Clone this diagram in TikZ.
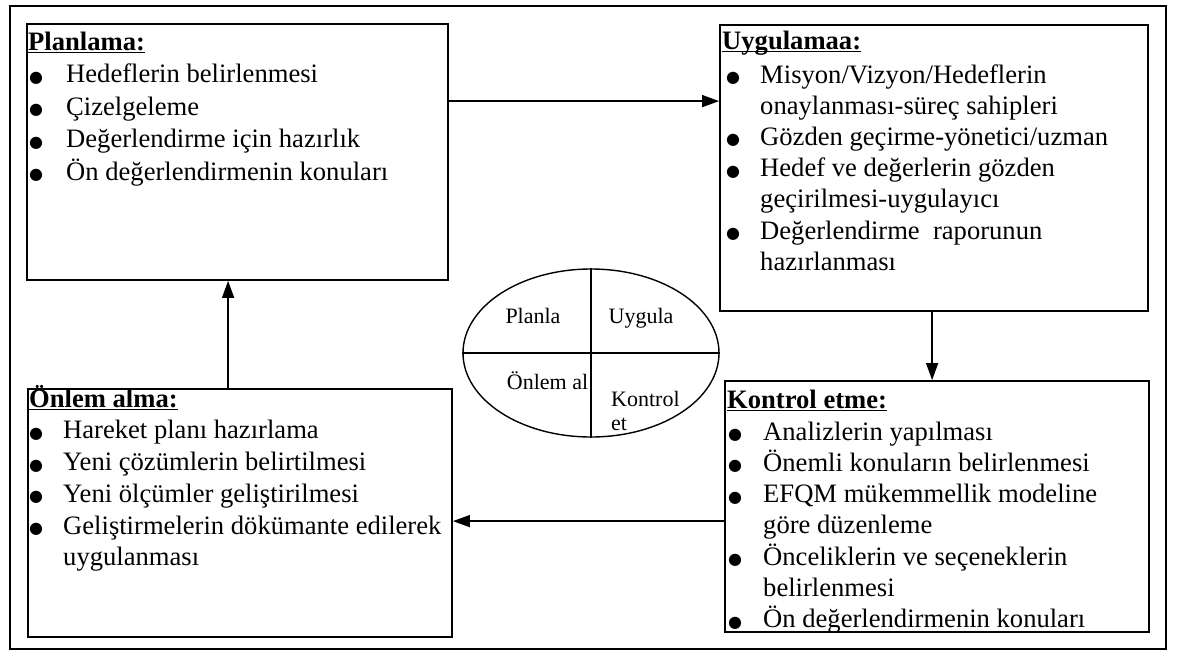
\documentclass[tikz,border=0pt]{standalone}
\usepackage{fontspec}
\setmainfont{Liberation Serif}
\newfontfamily\dotfont{DejaVu Sans}
\usetikzlibrary{arrows.meta,shapes.geometric}

% bullet mark, indent and offset for the list lines
\newlength\bind
\newlength\boff
\newcommand{\bulletmark}{\raisebox{0.5pt}{\dotfont\fontsize{16pt}{16pt}\selectfont ●}}
\newcommand{\bl}[1]{\leavevmode\makebox[\bind][l]{\hspace*{\boff}\bulletmark}#1\par}
\newcommand{\cl}[1]{\leavevmode\hspace*{\bind}#1\par}
% bold heading with a rule at a fixed depth
\newcommand{\headul}[1]{\leavevmode\setbox0\hbox{\bfseries #1}\rlap{\rule[-3pt]{\wd0}{1.4pt}}\box0\par}
\newcommand{\panelfont}[1]{\fontsize{26.6pt}{#1}\selectfont\setlength\parindent{0pt}\setlength\parskip{0pt}}

\tikzset{
  panel/.style={draw, line width=1.8pt, rectangle, inner sep=0pt},
  paneltext/.style={anchor=base west, inner sep=0pt},
  flow/.style={line width=1.5pt, -{Triangle[length=17pt,width=12pt]}},
  cycletext/.style={inner sep=0pt, font=\fontsize{22pt}{24pt}\selectfont}
}

\begin{document}
\begin{tikzpicture}[x=1pt,y=-1pt]
\useasboundingbox (0,0) rectangle (1177,651);
\fill[white] (0,0) rectangle (1177,651);

% outer frame
\draw[line width=1.4pt] (10,6) rectangle (1166,649);

% the four stage boxes
\node[panel, minimum width=421pt, minimum height=256pt] (plan) at (237.5,152) {};
\node[panel, minimum width=428pt, minimum height=286pt] (uyg) at (934,168) {};
\node[panel, minimum width=424pt, minimum height=251pt] (kont) at (937,506.5) {};
\node[panel, minimum width=424pt, minimum height=248pt] (onlem) at (240,513) {};

% box contents
\node[paneltext] (plantxt) at (28,50) {\parbox[t]{418pt}{\panelfont{32.6pt}%
  \setlength\bind{38pt}\setlength\boff{1pt}%
  \headul{Planlama:}
  \bl{Hedeflerin belirlenmesi}
  \bl{Çizelgeleme}
  \bl{Değerlendirme için hazırlık}
  \bl{Ön değerlendirmenin konuları}}};

\node[paneltext] (uygtxt) at (722,49) {\parbox[t]{420pt}{\panelfont{31.2pt}%
  \setlength\bind{38pt}\setlength\boff{4pt}%
  \headul{Uygulamaa:}\vspace{2.8pt}
  \bl{Misyon/Vizyon/Hedeflerin}
  \cl{onaylanması-süreç sahipleri}
  \bl{Gözden geçirme-yönetici/uzman}
  \bl{Hedef ve değerlerin gözden}
  \cl{geçirilmesi-uygulayıcı}
  \bl{Değerlendirme\ \ raporunun}
  \cl{hazırlanması}}};

\node[paneltext] (konttxt) at (727,408) {\parbox[t]{420pt}{\panelfont{31.3pt}%
  \setlength\bind{36pt}\setlength\boff{1pt}%
  \headul{Kontrol etme:}\vspace{0.7pt}
  \bl{Analizlerin yapılması}
  \bl{Önemli konuların belirlenmesi}
  \bl{EFQM mükemmellik modeline}
  \cl{göre düzenleme}
  \bl{Önceliklerin ve seçeneklerin}
  \cl{belirlenmesi}
  \bl{Ön değerlendirmenin konuları}}};

\node[paneltext] (onlemtxt) at (29,407) {\parbox[t]{420pt}{\panelfont{31.75pt}%
  \setlength\bind{34pt}\setlength\boff{0pt}%
  \headul{Önlem alma:}
  \bl{Hareket planı hazırlama}
  \bl{Yeni çözümlerin belirtilmesi}
  \bl{Yeni ölçümler geliştirilmesi}
  \bl{Geliştirmelerin dökümante edilerek}
  \cl{uygulanması}}};

% cycle ellipse in the middle
\node[draw, line width=1.4pt, ellipse, minimum width=256pt, minimum height=168pt, inner sep=0pt] (cyc) at (591,353) {};
\draw[line width=1.4pt] (cyc.north) -- (cyc.south);
\draw[line width=1.4pt] (cyc.west) -- (cyc.east);
\node[cycletext, anchor=base] (cplan) at (533,323) {Planla};
\node[cycletext, anchor=base] (cuyg) at (641,323) {Uygula};
\node[cycletext, anchor=base] (conlem) at (547.5,389) {Önlem al};
\node[cycletext, anchor=base west] (ckont) at (611,406) {\parbox[t]{60pt}{\fontsize{22pt}{24pt}\selectfont Kontrol\\et}};

% flow between the stages
\draw[flow] ([yshift=-78pt]plan.north east) -- ([yshift=-78pt]plan.north east -| uyg.west);
\draw[flow] ([xshift=213pt]uyg.south west) -- ([xshift=213pt]uyg.south west |- kont.north);
\draw[flow] ([yshift=-141pt]kont.north west) -- ([yshift=-141pt]kont.north west -| onlem.east);
\draw[flow] ([xshift=201pt]onlem.north west) -- ([xshift=201pt]onlem.north west |- plan.south);
\end{tikzpicture}
\end{document}
